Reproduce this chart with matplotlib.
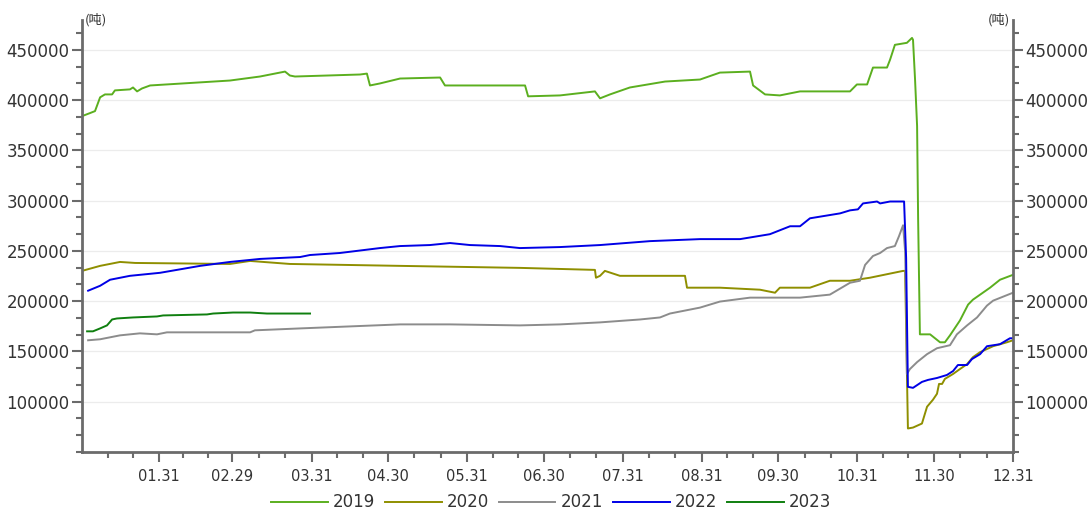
import matplotlib
matplotlib.use("Agg")
import matplotlib.pyplot as plt
import numpy as np

# x = day of year (2020 calendar, 01.01 = 0), y = tons
d2019 = [0, 3.1, 5.1, 7.1, 9.0, 11.8, 12.9, 18.8, 20.0, 21.6, 23.5, 26.7, 58.0, 69.8, 79.6,
         81.5, 83.5, 109.0, 111.7, 112.9, 116.8, 124.7, 140.4, 142.3, 173.7, 174.9, 187.4,
         201.1, 203.1, 207.0, 214.8, 228.6, 242.3, 250.1, 261.9, 263.1, 267.8, 273.6, 281.5,
         295.2, 301.1, 303.8, 307.8, 310.1, 315.6, 316.8, 318.7, 323.4, 325.4, 325.8, 326.6,
         327.4, 327.8, 328.5, 332.5, 336.4, 338.3, 340.3, 344.2, 347.4, 349.3, 356.0, 359.9, 365]
v2019 = [384000, 387000, 389000, 402700, 405600, 405600, 409600, 410600, 412500, 408600,
         411500, 414500, 419400, 423400, 428300, 424400, 423400, 425400, 426300, 414500,
         416500, 421400, 422400, 414500, 414500, 403700, 404600, 408600, 401700, 405600,
         412500, 418400, 420400, 427300, 428300, 414500, 405600, 404600, 408600, 408600,
         408600, 415500, 415500, 432300, 432300, 440100, 454900, 456900, 461800, 459900,
         420400, 374100, 282400, 167000, 167000, 159100, 159100, 166000, 180800, 196600,
         201500, 213400, 221300, 226200]

d2020 = [0, 7.1, 14.9, 20.8, 58.0, 65.9, 81.5, 124.7, 171.7, 201.1, 201.5, 203.1, 205.0,
         210.9, 236.4, 237.2, 250.1, 265.8, 271.7, 273.6, 285.4, 293.2, 301.1, 308.9, 321.9,
         322.7, 323.8, 325.8, 329.3, 331.3, 333.6, 335.2, 336.0, 337.2, 338.3, 341.5, 344.2,
         347.0, 349.3, 352.1, 357.2, 362.6, 365]
v2020 = [230100, 235100, 239000, 238000, 237000, 240000, 237000, 235100, 233100, 231100,
         223300, 225200, 230100, 225200, 225200, 213400, 213400, 211400, 208400, 213400,
         213400, 220300, 220300, 223300, 230100, 230100, 73400, 74300, 78300, 95000, 101900,
         107900, 117700, 117700, 122700, 127600, 132500, 137400, 144300, 149300, 155200,
         159100, 161100]

d2021 = [2.4, 7.1, 14.9, 22.7, 29.4, 33.3, 65.9, 67.8, 85.5, 124.7, 144.3, 171.7, 187.4,
         203.1, 218.8, 226.6, 230.5, 242.3, 250.1, 261.9, 281.5, 293.2, 301.1, 305.0, 307.0,
         310.1, 312.9, 315.6, 318.7, 320.3, 321.9, 322.7, 323.1, 323.4, 324.6, 327.4, 331.3,
         335.2, 340.3, 343.0, 347.0, 350.9, 354.8, 357.2, 365]
v2021 = [161100, 162100, 166000, 168000, 167000, 169000, 169000, 171000, 172900, 176900,
         176900, 175900, 176900, 178900, 181800, 183800, 187700, 193600, 199600, 203500,
         203500, 206500, 218300, 220300, 236000, 244900, 247900, 252800, 254800, 264600,
         275500, 249900, 200500, 127600, 132500, 139400, 147300, 153200, 156200, 167000,
         175900, 183800, 195600, 200500, 208400]

d2022 = [2.4, 7.1, 11.0, 18.8, 30.6, 46.3, 58.0, 69.8, 85.5, 89.4, 101.1, 116.8, 124.7,
         136.4, 144.3, 152.1, 163.9, 171.7, 187.4, 203.1, 222.7, 242.3, 258.0, 269.7, 277.6,
         281.5, 285.4, 297.2, 301.1, 304.2, 306.2, 311.7, 312.9, 316.8, 322.3, 323.1, 323.8,
         325.8, 329.3, 331.7, 335.2, 339.1, 341.5, 343.4, 347.0, 348.9, 352.1, 354.8, 359.9,
         363.8, 365]
v2022 = [210400, 215300, 221300, 225200, 228200, 235100, 239000, 242000, 243900, 245900,
         247900, 252800, 254800, 255800, 257800, 255800, 254800, 252800, 253800, 255800,
         259700, 261700, 261700, 266600, 274500, 274500, 282400, 287300, 290300, 291300,
         297200, 299100, 297200, 299100, 299100, 243000, 114800, 113800, 119700, 121700,
         123600, 126600, 130500, 136500, 136500, 142400, 147300, 155200, 157200, 163100,
         163100]

d2023 = [2.0, 4.3, 7.1, 9.8, 11.8, 13.7, 20.0, 29.4, 31.8, 49.0, 51.4, 59.2, 65.9, 72.5, 89.4]
v2023 = [170000, 170000, 172900, 175900, 181800, 182800, 183800, 184800, 185800, 186800,
         187700, 188700, 188700, 187700, 187700]

years = ["2019", "2020", "2021", "2022", "2023"]
colors = ["#5BAF1F", "#8F8F00", "#8C8C8C", "#0000E6", "#0F7F0F"]

month_end_days = [30, 59, 90, 120, 151, 181, 212, 243, 273, 304, 334, 365]
month_end_labels = ["01.31", "02.29", "03.31", "04.30", "05.31", "06.30",
                    "07.31", "08.31", "09.30", "10.31", "11.30", "12.31"]

plt.rcParams["font.family"] = ["DejaVu Sans"]

fig = plt.figure(figsize=(10.91, 5.14), dpi=100)
ax = fig.add_axes([82 / 1091, 62 / 514, 931 / 1091, 432 / 514])

series = [(d2019, v2019), (d2020, v2020), (d2021, v2021), (d2022, v2022), (d2023, v2023)]
for (xs, ys), name, c in zip(series, years, colors):
    ax.plot(xs, ys, color=c, lw=1.4, label=name)

ax.set_xlim(0, 365)
ax.set_ylim(53700, 479600)

# y ticks
ax.set_yticks(np.arange(100000, 450001, 50000))
ax.set_yticks(np.arange(50000, 480000, 50000 / 3), minor=True)
ax.yaxis.set_major_formatter(matplotlib.ticker.FuncFormatter(lambda v, p: f"{int(v)}"))
ax.grid(axis="y", color="#ececec", lw=0.9)
ax.set_axisbelow(True)

# x ticks: month ends, two minor ticks in between
minor_x = []
prev = 0
for m in month_end_days:
    step = (m - prev) / 3
    minor_x += [prev + step, prev + 2 * step]
    prev = m
ax.set_xticks(month_end_days)
ax.set_xticklabels(month_end_labels)
ax.set_xticks(minor_x, minor=True)

axis_col = "#6b6b6b"
for s in ["left", "right", "bottom"]:
    ax.spines[s].set_color(axis_col)
    ax.spines[s].set_linewidth(2)
ax.spines["top"].set_visible(False)

ax.tick_params(axis="y", which="both", direction="out", color=axis_col, width=1.5,
               labelsize=12, labelcolor="#333333", left=True, right=True,
               labelleft=True, labelright=True, pad=2)
ax.tick_params(axis="y", which="major", length=7)
ax.tick_params(axis="y", which="minor", length=4)
ax.tick_params(axis="x", which="both", direction="out", color=axis_col, width=1.5,
               labelsize=10.5, labelcolor="#333333", pad=5)
ax.tick_params(axis="x", which="major", length=7)
ax.tick_params(axis="x", which="minor", length=4)

ax.text(0.003, 1.0, "(吨)", transform=ax.transAxes, fontsize=9.5, ha="left", va="center",
        family=["Noto Sans CJK SC", "DejaVu Sans"], color="#333333")
ax.text(0.997, 1.0, "(吨)", transform=ax.transAxes, fontsize=9.5, ha="right", va="center",
        family=["Noto Sans CJK SC", "DejaVu Sans"], color="#333333")

leg = fig.legend(loc="lower center", bbox_to_anchor=(0.505, -0.024), ncol=5, frameon=False,
                 fontsize=12, handlelength=3.4, handletextpad=0.3, columnspacing=0.6)
for t in leg.get_texts():
    t.set_color("#333333")

fig.savefig("out.png", dpi=100)
